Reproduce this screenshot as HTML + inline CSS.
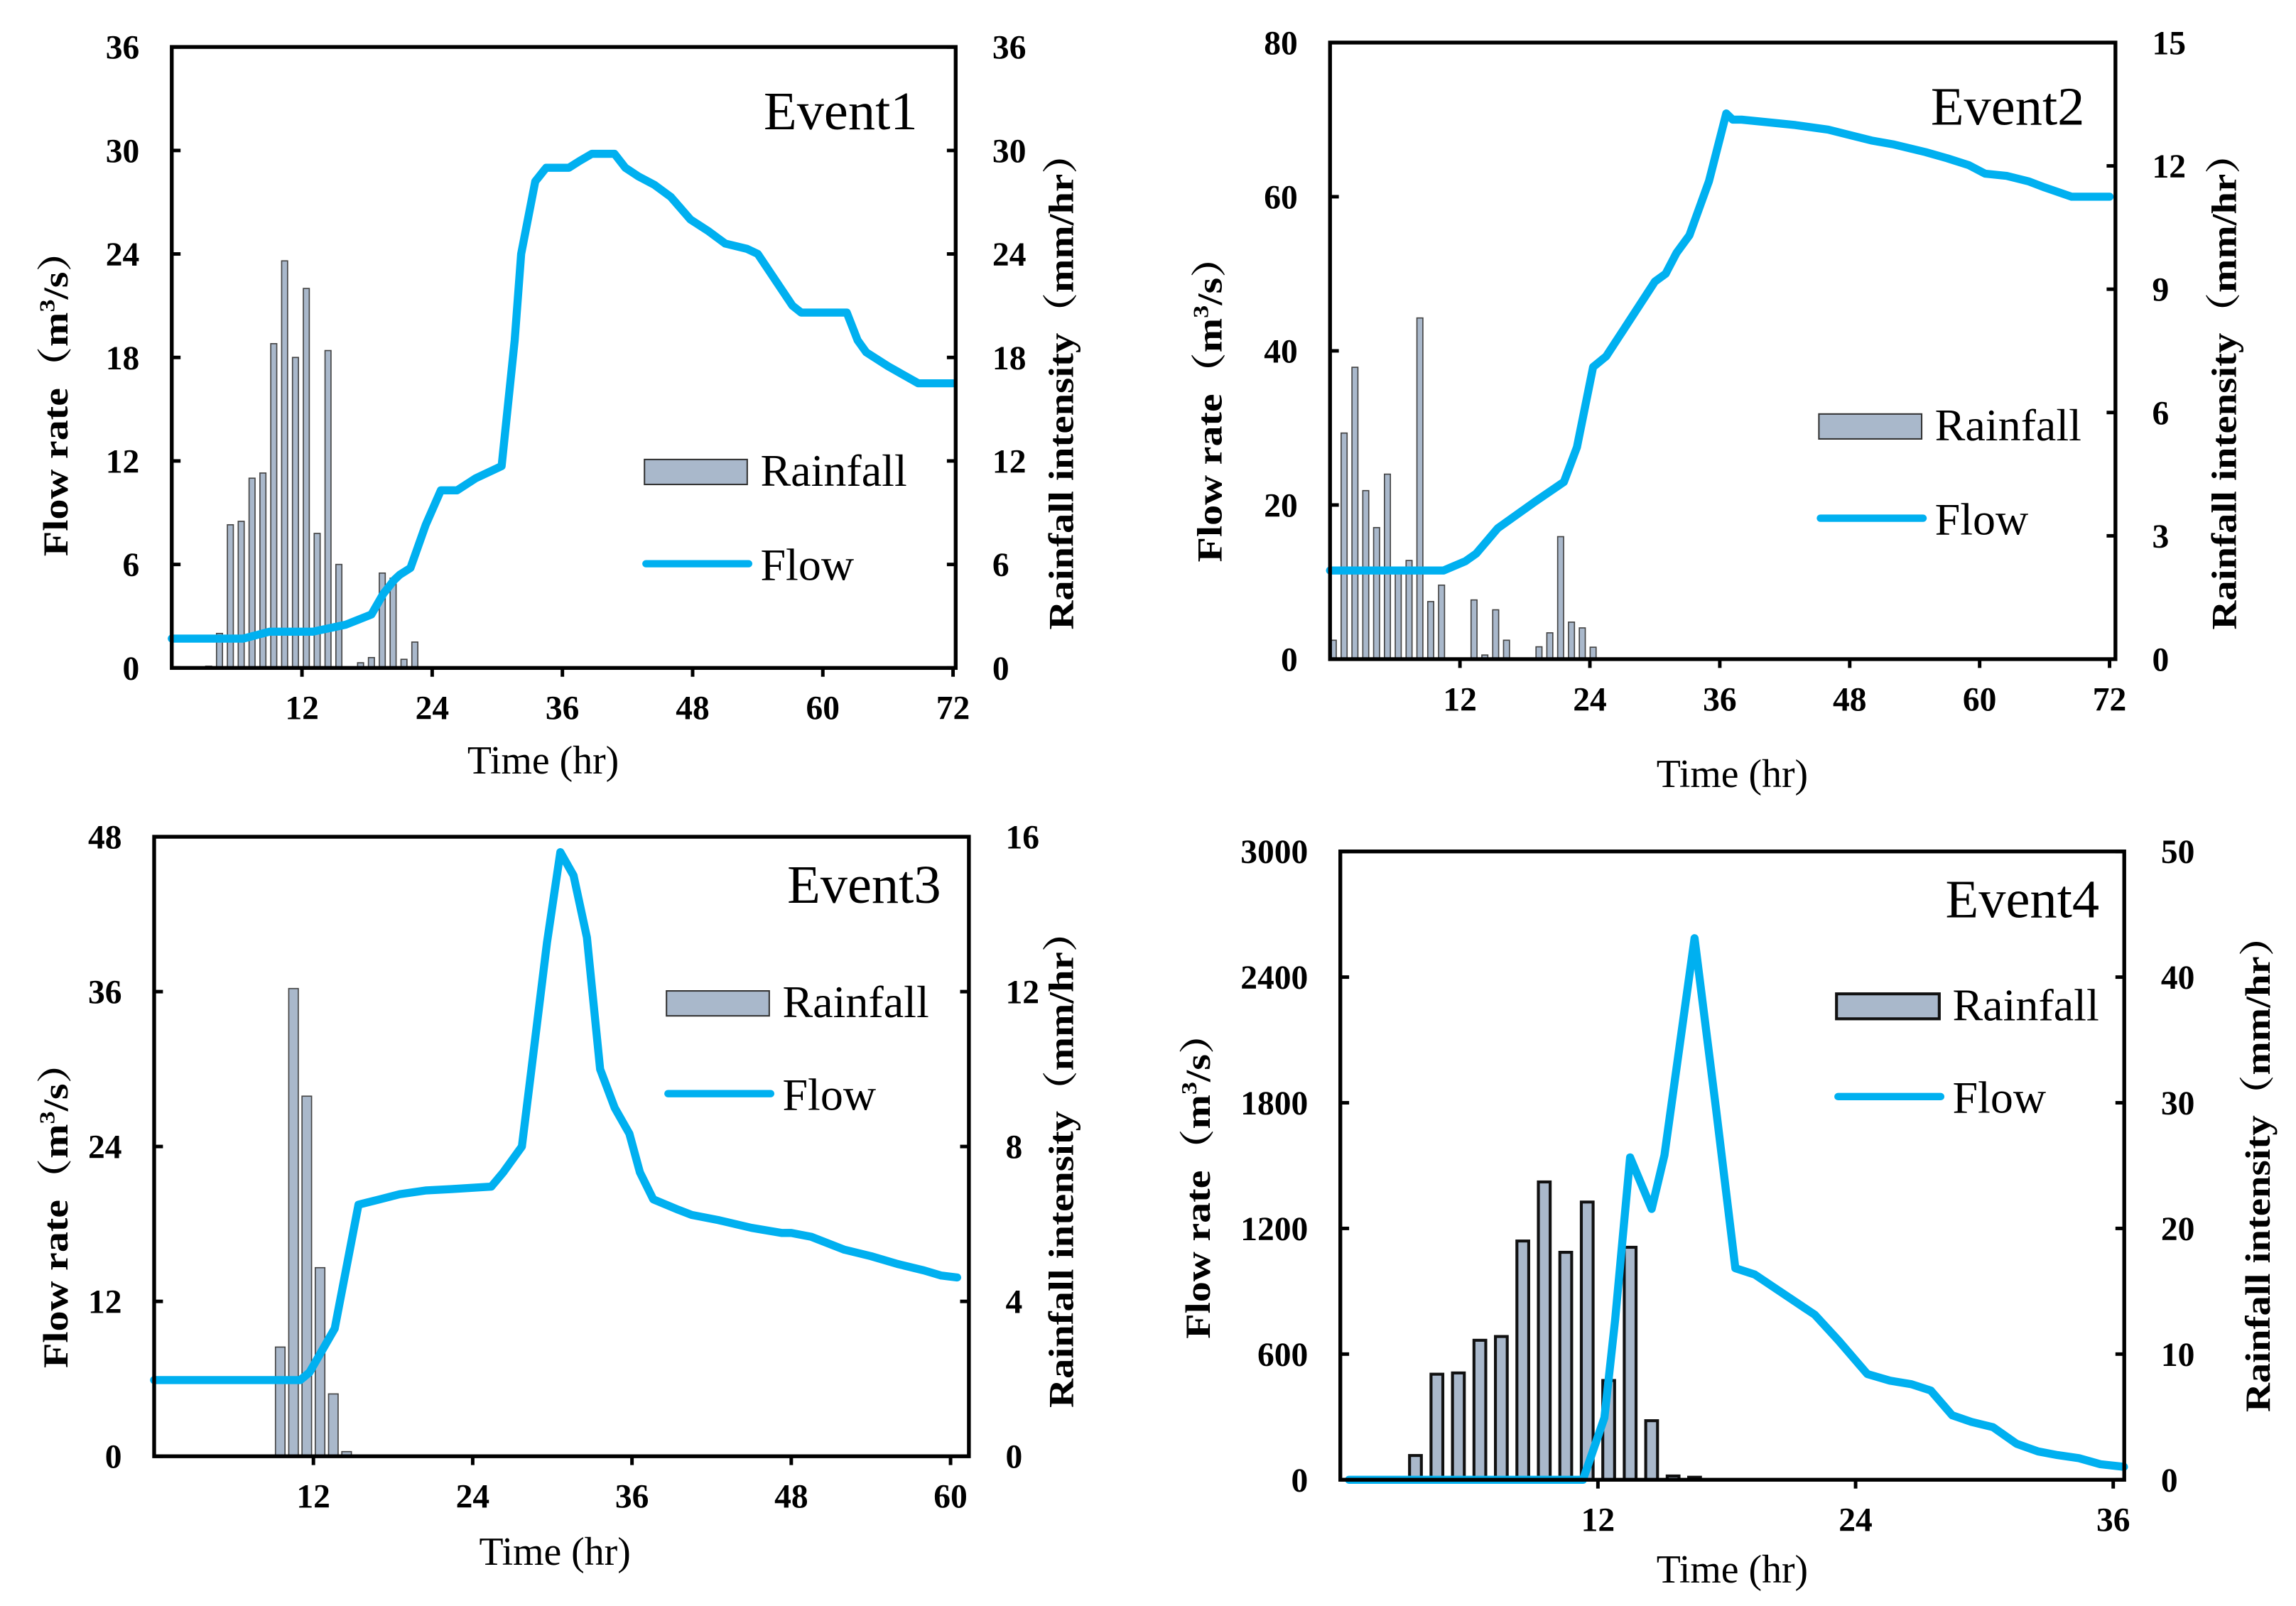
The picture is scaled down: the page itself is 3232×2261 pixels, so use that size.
<!DOCTYPE html>
<html><head><meta charset="utf-8">
<style>
html,body{margin:0;padding:0;background:#fff;}
svg{display:block;}
text{font-family:"Liberation Serif","Noto Serif CJK SC",serif;}
</style></head>
<body>
<svg id="fig" width="3232" height="2261" viewBox="0 0 1564 1094" preserveAspectRatio="none" xmlns="http://www.w3.org/2000/svg"></svg>
<script>
// ---------- Event 1 data ----------
const e1RainHours = [3.4,4.4,5.4,6.4,7.4,8.4,9.4,10.4,11.4,12.4,13.4,14.4,15.4,16.4,17.4,18.4,19.4,20.4,21.4,22.4];
const e1RainValues = [0.1,2,8.3,8.5,11,11.3,18.8,23.6,18,22,7.8,18.4,6,0,0.3,0.6,5.5,5.2,0.5,1.5];
const e1FlowTimes = [0,6.6,9,13,16,18.4,19.5,20.5,21,22,23.4,24.8,26.3,28,30.4,31.6,32.2,33.5,34.5,36.6,37.6,38.7,40.8,41.8,43,44.5,46,47.8,49.5,51,53,54,55.6,57.2,58,62.2,63.2,64,66,68.8,72];
const e1FlowValues = [1.7,1.7,2.1,2.1,2.5,3.1,4.3,5.1,5.4,5.8,8.3,10.3,10.3,11,11.7,19,24,28.2,29,29,29.4,29.8,29.8,29,28.5,28,27.3,26,25.3,24.6,24.3,24,22.5,21,20.6,20.6,19,18.3,17.5,16.5,16.5];
// ---------- Event 2 data ----------
const e2RainHours = [0.3,1.3,2.3,3.3,4.3,5.3,6.3,7.3,8.3,9.3,10.3,13.3,14.3,15.3,16.3,19.3,20.3,21.3,22.3,23.3,24.3];
const e2RainValues = [0.46,5.5,7.1,4.1,3.2,4.5,2.2,2.4,8.3,1.4,1.8,1.44,0.1,1.2,0.46,0.3,0.64,2.98,0.9,0.76,0.29];
const e2FlowTimes = [0,10.5,12.5,13.5,15.5,17,19,21.6,22.8,24.3,25.5,27,30,31,32,33.2,35,36.6,37.2,38,43,46,48,50,52,55,57,59,60.5,62.5,64.5,66,68.5,72];
const e2FlowValues = [11.5,11.5,12.7,13.7,17,18.5,20.5,23,27.5,37.9,39.3,42.5,49,50,52.7,55,62,70.8,70,70,69.3,68.7,68,67.3,66.8,65.8,65,64.1,63,62.7,62,61.2,60,60];
// ---------- Event 3 data ----------
const e3RainHours = [9.5,10.5,11.5,12.5,13.5,14.5];
const e3RainValues = [2.82,12.08,9.3,4.87,1.61,0.12];
const e3FlowTimes = [0,11,11.7,13.6,15.4,17,18.5,20.5,22.4,25.4,26.3,27.7,28.4,29.6,30.6,31.6,32.6,33.6,34.7,35.8,36.6,37.6,39.5,40.5,42.5,45,47.3,48,49.5,52,54,56,58,59.3,60.5];
const e3FlowValues = [5.9,5.9,6.5,9.9,19.5,19.9,20.3,20.6,20.7,20.9,22,24,29.8,39.8,46.8,45,40.2,30,27,25,22,19.9,19.1,18.7,18.3,17.7,17.3,17.3,17,16,15.5,14.9,14.4,14,13.85];
// ---------- Event 4 data ----------
const e4RainHours = [3.5,4.5,5.5,6.5,7.5,8.5,9.5,10.5,11.5,12.5,13.5,14.5,15.5,16.5];
const e4RainValues = [1.93,8.4,8.5,11.1,11.4,19,23.7,18.1,22.1,7.9,18.5,4.7,0.3,0.2];
const e4FlowTimes = [0.4,11.3,12.3,12.8,13.5,14.5,15.1,16.5,17.5,18.4,19.3,20.3,22.1,23.2,24.55,25.6,26.6,27.5,28.5,29.4,30.4,31.5,32.5,33.4,34.4,35.4,36.5];
const e4FlowValues = [0,0,296,763,1539,1293,1550,2586,1773,1010,980,911,788,665,505,473,456,426,308,276,251,172,135,118,103,74,62];
// ---------- tick labels ----------
const e1XTicks=[12,24,36,48,60,72], e1LTicks=[0,6,12,18,24,30,36], e1RTicks=[0,6,12,18,24,30,36];
const e2XTicks=[12,24,36,48,60,72], e2LTicks=[0,20,40,60,80], e2RTicks=[0,3,6,9,12,15];
const e3XTicks=[12,24,36,48,60], e3LTicks=[0,12,24,36,48], e3RTicks=[0,4,8,12,16];
const e4XTicks=[12,24,36], e4LTicks=[0,600,1200,1800,2400,3000], e4RTicks=[0,10,20,30,40,50];

const NS="http://www.w3.org/2000/svg";
const svg=document.getElementById('fig');
function mk(tag,attrs,parent){const e=document.createElementNS(NS,tag);for(const k in attrs)e.setAttribute(k,attrs[k]);(parent||svg).appendChild(e);return e;}

const panels=[
 {id:'event1',title:'Event1',L:117,R:651,T:32,B:455,x12:88.7,lMax:36,rMax:36,
  xt:e1XTicks,lt:e1LTicks,rt:e1RTicks,rh:e1RainHours,rv:e1RainValues,ft:e1FlowTimes,fv:e1FlowValues,bw:0.55,thick:false,
  ylx:37,yly:268,yrx:722,yry:260,tx:370,ty:527,evx:625,evy:88,lgx:439,lgy:313,lgFy:384},
 {id:'event2',title:'Event2',L:906,R:1441,T:29,B:449,x12:88.5,lMax:80,rMax:15,
  xt:e2XTicks,lt:e2LTicks,rt:e2RTicks,rh:e2RainHours,rv:e2RainValues,ft:e2FlowTimes,fv:e2FlowValues,bw:0.55,thick:false,
  ylx:823,yly:272,yrx:1514,yry:260,tx:1180,ty:536,evx:1420,evy:85,lgx:1239,lgy:282,lgFy:353},
 {id:'event3',title:'Event3',L:105,R:660,T:570,B:992,x12:108.5,lMax:48,rMax:16,
  xt:e3XTicks,lt:e3LTicks,rt:e3RTicks,rh:e3RainHours,rv:e3RainValues,ft:e3FlowTimes,fv:e3FlowValues,bw:0.72,thick:false,
  ylx:37,yly:821,yrx:722,yry:790,tx:378,ty:1066,evx:641,evy:615,lgx:454,lgy:675,lgFy:745},
 {id:'event4',title:'Event4',L:913,R:1447,T:580,B:1008,x12:175.5,lMax:3000,rMax:50,
  xt:e4XTicks,lt:e4LTicks,rt:e4RTicks,rh:e4RainHours,rv:e4RainValues,ft:e4FlowTimes,fv:e4FlowValues,bw:0.55,thick:true,
  ylx:815,yly:801,yrx:1537,yry:793,tx:1180,ty:1078,evx:1430,evy:625,lgx:1251,lgy:677,lgFy:747}
];

panels.forEach(p=>{
  const g=mk('g',{});
  
  
  const X=h=>p.L+h*p.x12/12;
  const YL=v=>p.B-v/p.lMax*(p.B-p.T);
  const YR=v=>p.B-v/p.rMax*(p.B-p.T);
  const bars=mk('g',{},g);
  
  
  p.rh.forEach((h,i)=>{
    const w=p.bw*p.x12/12, y=YR(p.rv[i]);
    const r=mk('rect',{x:X(h)-w/2,y:y,width:w,height:Math.max(0,p.B-y),fill:'#a9b8cb',stroke:p.thick?'#111':'#444','stroke-width':p.thick?2:0.8},bars);
    
    
  });
  const pts=p.ft.map((t,i)=>X(t).toFixed(1)+','+YL(p.fv[i]).toFixed(1)).join(' ');
  const fl=mk('polyline',{points:pts,fill:'none',stroke:'#00b0f0','stroke-width':5.5,'stroke-linejoin':'round','stroke-linecap':'round'},g);
  
  
  const fr=mk('rect',{x:p.L,y:p.T,width:p.R-p.L,height:p.B-p.T,fill:'none',stroke:'#000','stroke-width':2.6},g);
  
  
  p.xt.forEach(v=>{
    const x=X(v);
    mk('line',{x1:x,x2:x,y1:p.B,y2:p.B+6,stroke:'#000','stroke-width':2.4},g);
    const t=mk('text',{x:x,y:p.B+35,'text-anchor':'middle','font-size':23,'font-weight':'bold'},g);
    t.textContent=v;
    
    
  });
  p.lt.forEach(v=>{
    const y=YL(v);
    mk('line',{x1:p.L,x2:p.L+6,y1:y,y2:y,stroke:'#000','stroke-width':2.4},g);
    const t=mk('text',{x:p.L-22,y:y+8,'text-anchor':'end','font-size':23,'font-weight':'bold'},g);
    t.textContent=v;
    
    
  });
  p.rt.forEach(v=>{
    const y=YR(v);
    mk('line',{x1:p.R-6,x2:p.R,y1:y,y2:y,stroke:'#000','stroke-width':2.4},g);
    const t=mk('text',{x:p.R+25,y:y+8,'text-anchor':'start','font-size':23,'font-weight':'bold'},g);
    t.textContent=v;
    
    
  });
  const yl=mk('text',{x:0,y:0,transform:`translate(${p.ylx+9},${p.yly}) rotate(-90)`,'text-anchor':'middle','font-size':24,'font-weight':'bold',textLength:222,lengthAdjust:'spacingAndGlyphs'},g);
  yl.innerHTML='Flow rate（m<tspan font-size="15" dy="-9">3</tspan><tspan dy="9">/s）</tspan>';
  
  
  const yr=mk('text',{x:0,y:0,transform:`translate(${p.yrx+9},${p.yry}) rotate(-90)`,'text-anchor':'middle','font-size':24,'font-weight':'bold',textLength:338,lengthAdjust:'spacingAndGlyphs'},g);
  yr.textContent='Rainfall intensity（mm/hr）';
  
  
  const xt=mk('text',{x:p.tx,y:p.ty,'text-anchor':'middle','font-size':27},g);
  xt.textContent='Time (hr)';
  
  
  const ev=mk('text',{x:p.evx,y:p.evy,'text-anchor':'end','font-size':37},g);
  ev.textContent=p.title;
  
  
  const lg=mk('g',{},g);
  
  
  mk('rect',{x:p.lgx,y:p.lgy,width:70,height:17,fill:'#a9b8cb',stroke:p.thick?'#111':'#333','stroke-width':p.thick?2:1},lg);
  const lr=mk('text',{x:p.lgx+79,y:p.lgy+18,'font-size':31},lg);
  lr.textContent='Rainfall';
  
  
  mk('line',{x1:p.lgx+1,x2:p.lgx+71,y1:p.lgFy,y2:p.lgFy,stroke:'#00b0f0','stroke-width':5,'stroke-linecap':'round'},lg);
  const lf=mk('text',{x:p.lgx+79,y:p.lgFy+11,'font-size':31},lg);
  lf.textContent='Flow';
  
  
});
</script>
</body></html>
